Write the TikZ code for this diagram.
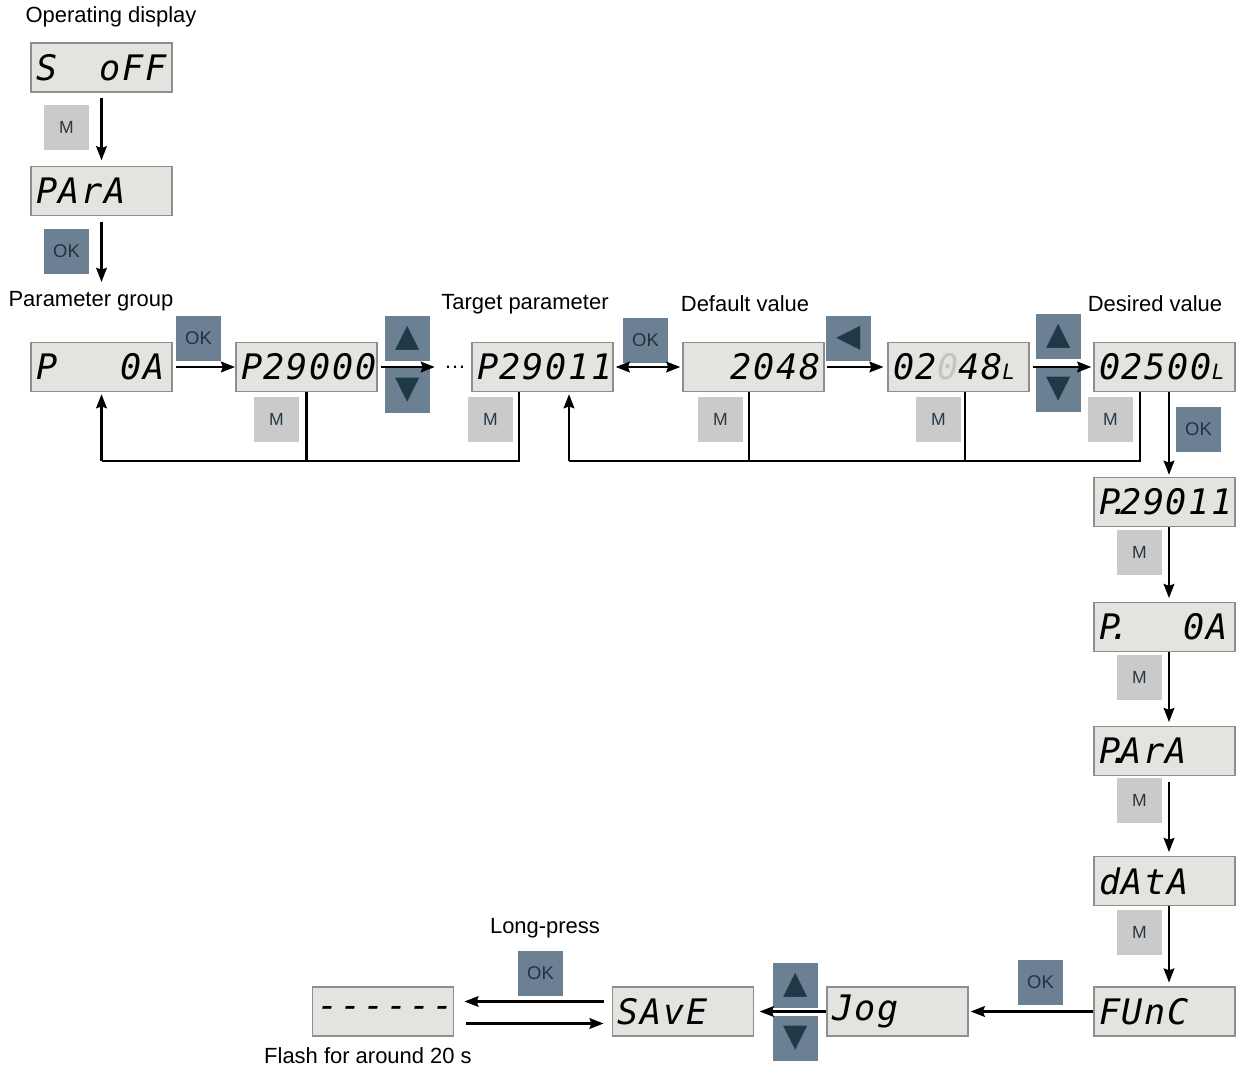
\documentclass[tikz,border=0pt]{standalone}
\usepackage{fontspec}
\setmainfont{Liberation Sans}
\newfontfamily\lcdfont{DejaVu Sans Mono}[LetterSpace=5]
\newfontfamily\symfont{DejaVu Sans}
\usetikzlibrary{arrows.meta,calc}
\definecolor{dispfill}{HTML}{E3E3DF}
\definecolor{dispedge}{HTML}{8E8E8E}
\definecolor{mfill}{HTML}{CACACA}
\definecolor{keytext}{HTML}{263845}
\definecolor{okfill}{HTML}{6B8193}
\definecolor{oktext}{HTML}{1F3340}
\definecolor{tri}{HTML}{1E3A47}
\definecolor{dimdigit}{HTML}{C4C4C4}
\newcommand{\gap}{\hphantom{0}}
\newcommand{\dimd}[1]{\textcolor{dimdigit}{#1}}
\newcommand{\lowl}{{\fontsize{12}{12}\selectfont L}}
\newcommand{\pdot}{\makebox[0pt][r]{.\kern-0.3em}}
\begin{document}
\begin{tikzpicture}[x=0.02cm,y=-0.02cm,
  disp/.style={draw=dispedge,fill=dispfill,line width=1pt,minimum width=2.82cm,minimum height=0.98cm,
    inner xsep=0.1cm,inner ysep=0pt,text width=2.62cm,align=left,
    font=\lcdfont\itshape\fontsize{20}{20}\selectfont},
  mkey/.style={fill=mfill,minimum size=0.9cm,inner sep=0pt,text=keytext,font=\fontsize{10}{10}\selectfont},
  okkey/.style={fill=okfill,minimum size=0.9cm,inner sep=0pt,text=oktext,font=\fontsize{10.5}{10.5}\selectfont},
  arkey/.style={fill=okfill,minimum size=0.9cm,inner sep=0pt,text=tri,font=\symfont\fontsize{18}{18}\selectfont},
  lbl/.style={font=\fontsize{12.5}{14}\selectfont,inner sep=0pt},
  arr/.style={line width=1.5pt,-{Stealth[length=8pt,width=6pt,inset=1pt]}},
  arrb/.style={line width=1.5pt,{Stealth[length=8pt,width=6pt,inset=1pt]}-{Stealth[length=8pt,width=6pt,inset=1pt]}},
  wire/.style={line width=1.5pt}]
\useasboundingbox (0,0) rectangle (1242,1068);

\node[lbl] (opdisp) at (111,17) {Operating display};
\node[disp] (d1) at (101.5,67.5) {S\gap\gap oFF};
\node[mkey] (m1) at (66.5,127.5) {M};
\node[disp] (d2) at (101.5,191) {PArA};
\node[okkey] (ok1) at (66.5,251.5) {OK};
\node[lbl] (grplbl) at (91,301) {Parameter group};
\draw[arr,shorten <=3pt,shorten >=3pt] (d1) -- (d2);
\draw[arr,shorten <=3pt,shorten >=5pt] (d2.south) -- (d2.south |- grplbl.north);

\node[disp] (grp) at (101.5,367) {P\gap\gap\gap 0A};
\node[okkey] (ok2) at (198.5,338.5) {OK};
\node[disp] (p29000) at (306.5,367) {P29000};
\node[arkey] (up1) at (407.5,338.5) {▲};
\node[arkey] (dn1) at (407.5,390.5) {▼};
\node[lbl] (dots) at (455,367) {\dots};
\node[lbl] (tgtlbl) at (525,304) {Target parameter};
\node[disp] (tgt) at (542.5,367) {P29011};
\node[okkey] (ok3) at (645.5,340.5) {OK};
\node[lbl] (dftlbl) at (745,304) {Default value};
\node[disp] (dft) at (753.5,367) {\gap\gap 2048};
\node[arkey] (lt1) at (848.5,338.5) {◀};
\node[disp] (edit) at (958.5,367) {02\dimd{0}48\lowl};
\node[arkey] (up2) at (1058.5,336.5) {▲};
\node[arkey] (dn2) at (1058.5,389.5) {▼};
\node[lbl] (deslbl) at (1155,304) {Desired value};
\node[disp] (des) at (1164.5,367) {02500\lowl};

\node[mkey] (m2) at (276.5,419.5) {M};
\node[mkey] (m3) at (490.5,419.5) {M};
\node[mkey] (m4) at (720.5,419.5) {M};
\node[mkey] (m5) at (938.5,419.5) {M};
\node[mkey] (m6) at (1110.5,419.5) {M};
\node[okkey] (ok4) at (1198.5,429.5) {OK};

\draw[arr,shorten <=2pt] (grp.east) -- (p29000.west);
\draw[arr,shorten <=2pt,shorten >=5pt] (p29000.east) -- (dots.west);
\draw[arrb,shorten <=1pt,shorten >=1pt] (tgt.east) -- (dft.west);
\draw[arr,shorten <=1pt,shorten >=2pt] (dft.east) -- (edit.west);
\draw[arr,shorten <=2pt,shorten >=1pt] (edit.east) -- (des.west);

\coordinate (loopA) at (101.5,461);
\draw[wire] (p29000.south) |- (loopA);
\draw[wire] ($(tgt.south)+(-23.5,0)$) |- (loopA);
\draw[arr,shorten >=1pt] (loopA) -- (grp.south);
\coordinate (loopB) at (569,461);
\draw[wire] ($(dft.south)+(-4.5,0)$) |- (loopB);
\draw[wire] ($(edit.south)+(6.5,0)$) |- (loopB);
\draw[wire] ($(des.south)+(-24.5,0)$) |- (loopB);
\draw[arr,shorten >=1pt] (loopB) -- (loopB |- tgt.south);

\node[disp] (chk) at (1164.5,502) {P\pdot 29011};
\node[mkey] (m7) at (1139.5,552.5) {M};
\node[disp] (grp2) at (1164.5,627) {P\pdot\gap\gap\gap 0A};
\node[mkey] (m8) at (1139.5,677.5) {M};
\node[disp] (para2) at (1164.5,751) {P\pdot ArA};
\node[mkey] (m9) at (1139.5,800.5) {M};
\node[disp] (data) at (1164.5,881) {dAtA};
\node[mkey] (m10) at (1139.5,932.5) {M};
\node[disp] (func) at (1164.5,1011.5) {FUnC};
\draw[arr,shorten >=1pt] ($(des.south)+(4.5,0)$) -- ($(chk.north)+(4.5,0)$);
\draw[arr,shorten >=2pt] ($(chk.south)+(4.5,0)$) -- ($(grp2.north)+(4.5,0)$);
\draw[arr,shorten >=2pt] ($(grp2.south)+(4.5,0)$) -- ($(para2.north)+(4.5,0)$);
\draw[arr,shorten <=3pt,shorten >=2pt] ($(para2.south)+(4.5,0)$) -- ($(data.north)+(4.5,0)$);
\draw[arr,shorten >=2pt] ($(data.south)+(4.5,0)$) -- ($(func.north)+(4.5,0)$);

\node[okkey] (ok5) at (1040.5,982.5) {OK};
\node[disp] (jog) at (897.5,1011.5) {Jog};
\node[arkey] (up3) at (795.5,985.5) {▲};
\node[arkey] (dn3) at (795.5,1038.5) {▼};
\node[disp] (save) at (683,1011.5) {SAvE};
\node[lbl] (longlbl) at (545,928) {Long-press};
\node[okkey] (ok6) at (540.5,973.5) {OK};
\node[disp] (flash) at (383,1011.5) {\mbox{------}};
\node[lbl] (flashlbl) at (368,1056) {Flash for around 20 s};
\draw[arr,shorten >=1pt] (func.west) -- (jog.east);
\draw[arr,shorten >=3pt] (jog.west) -- (save.west -| save.east);
\draw[arr] ($(save.west)+(-8,-10)$) -- ($(flash.east)+(10,-10)$);
\draw[arr] ($(flash.east)+(12,12)$) -- ($(save.west)+(-8,12)$);
\end{tikzpicture}
\end{document}
